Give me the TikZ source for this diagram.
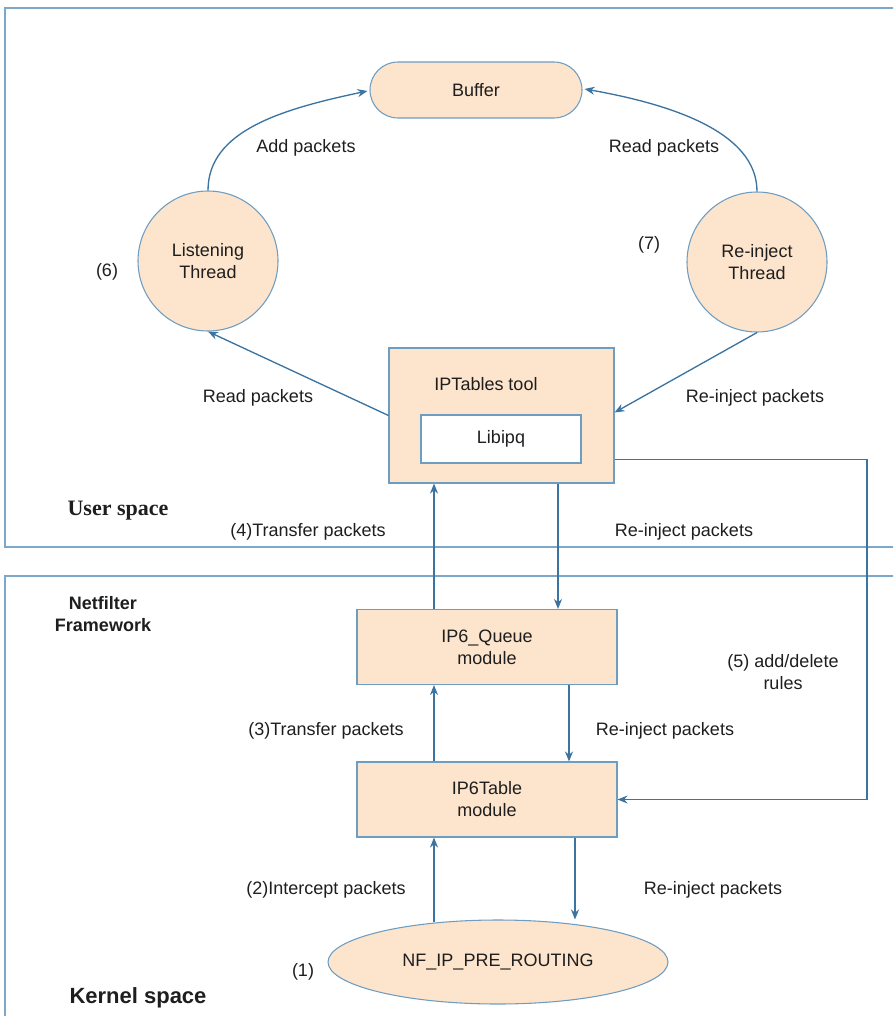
\documentclass[tikz,border=0pt]{standalone}
\usepackage{fontspec}
\setmainfont{Liberation Sans}
\newfontfamily\titleserif{Liberation Serif}
\usetikzlibrary{shapes.geometric,arrows.meta,calc}

\definecolor{boxfill}{HTML}{FDE4CC}
\definecolor{boxline}{HTML}{6E9DC2}
\definecolor{arrowline}{HTML}{3B73A1}
\definecolor{frameline}{HTML}{7DA8C9}
\definecolor{txt}{HTML}{1E1E1E}

\tikzset{
  every node/.style={text=txt},
  lbl/.style={inner sep=0pt, align=center, font=\fontsize{13.5}{16.5}\selectfont},
  block/.style={draw=boxline, fill=boxfill, line width=0.8pt, inner sep=0pt,
    align=center, font=\fontsize{13.5}{16.5}\selectfont},
  thread/.style={block, circle, minimum size=105pt},
  frame/.style={draw=frameline, line width=0.9pt},
  arr/.style={draw=arrowline, line width=1pt, -{Stealth[length=7.5pt,width=6pt]}},
  plain/.style={draw=arrowline, line width=1pt}
}

\begin{document}
\begin{tikzpicture}[x=0.75pt, y=-0.75pt]
\useasboundingbox (0,0) rectangle (893,1016);
\clip (0,0) rectangle (893,1016);

% address-space frames
\draw[frame] (900,8) -- (5,8) -- (5,547) -- (900,547);
\draw[frame] (900,576) -- (5,576) -- (5,1030);

% user space components
\node[block, rounded corners=21pt, minimum width=159pt, minimum height=42pt] (buf) at (476,90) {Buffer};
\node[thread] (lt) at (208,261) {Listening\\Thread};
\node[thread] (rt) at (757,262) {Re-inject\\Thread};
\node[block, minimum width=168.75pt, minimum height=101.25pt] (ipt) at (501.5,415.5) {};
\node[lbl] (iptl) at (486,384) {IPTables tool};
\node[draw=boxline, fill=white, line width=0.8pt, minimum width=120pt, minimum height=36pt,
      inner sep=0pt, font=\fontsize{13.5}{16.5}\selectfont] (lib) at (501,439) {Libipq};

% kernel components
\node[block, minimum width=195pt, minimum height=56.25pt] (iq) at (487,647) {IP6\_Queue\\module};
\node[block, minimum width=195pt, minimum height=56.25pt] (itab) at (487,799.5) {IP6Table\\module};
\node[block, ellipse, minimum width=255pt, minimum height=63pt] (ne) at (498,962) {NF\_IP\_PRE\_ROUTING};

% columns of the vertical connectors
\coordinate (xa) at (434,0);
\coordinate (xb) at (558,0);
\coordinate (xc) at (569,0);
\coordinate (xd) at (575,0);
\coordinate (xr) at (867,0);

% buffer access
\draw[arr] (lt.north) .. controls +(0,-60) and +(-85,18) .. ($(buf.west)+(-2,1)$);
\draw[arr] (rt.north) .. controls +(0,-60) and +(85,15) .. ($(buf.east)+(2,-1)$);

% threads and the IPTables tool
\draw[arr] (ipt.west) -- (lt.south);
\draw[arr] (rt.south) -- ($(ipt.east)+(0,-3)$);

% transfer and re-inject paths
\draw[arr] (xa |- iq.north) -- (xa |- ipt.south);
\draw[arr] (xb |- ipt.south) -- (xb |- iq.north);
\draw[arr] (xa |- itab.north) -- (xa |- iq.south);
\draw[arr] (xc |- iq.south) -- (xc |- itab.north);
\draw[arr] ($(xa |- ne.north)+(0,3)$) -- (xa |- itab.south);
\draw[arr] (xd |- itab.south) -- (xd |- ne.north);

% rule updates from the tool to the table
\coordinate (ruleout) at ($(ipt.east)+(0,44)$);
\draw[arr] (ruleout) -- (xr |- ruleout) -- (xr |- itab.east) -- (itab.east);

% labels
\node[lbl] (l1) at (306,148) {Add packets};
\node[lbl] (l2) at (664,148) {Read packets};
\node[lbl] (l3) at (107,272) {(6)};
\node[lbl] (l4) at (649,245) {(7)};
\node[lbl] (l5) at (258,398) {Read packets};
\node[lbl] (l6) at (755,398) {Re-inject packets};
\node[lbl] (l7) at (308,532) {(4)Transfer packets};
\node[lbl] (l8) at (684,532) {Re-inject packets};
\node[lbl] (l9) at (783,672) {(5) add/delete\\rules};
\node[lbl] (l10) at (326,731) {(3)Transfer packets};
\node[lbl] (l11) at (665,731) {Re-inject packets};
\node[lbl] (l12) at (326,890) {(2)Intercept packets};
\node[lbl] (l13) at (713,890) {Re-inject packets};
\node[lbl] (l14) at (303,972) {(1)};

% region titles
\node[inner sep=0pt, font=\titleserif\bfseries\fontsize{16.5}{19}\selectfont] (us) at (118,511) {User space};
\node[inner sep=0pt, align=center, font=\bfseries\fontsize{13.5}{17}\selectfont] (nf) at (103,614) {Netfilter\\Framework};
\node[inner sep=0pt, font=\bfseries\fontsize{16.5}{19}\selectfont] (ks) at (138,998) {Kernel space};
\end{tikzpicture}
\end{document}
